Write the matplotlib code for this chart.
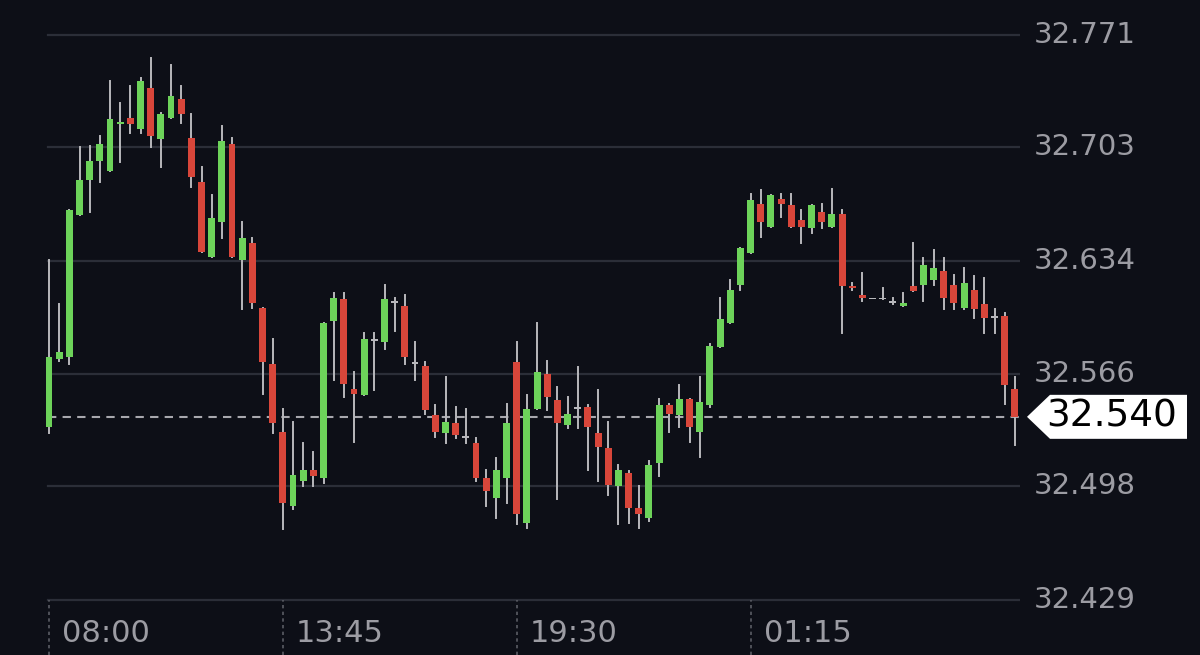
import matplotlib
matplotlib.use("Agg")
import matplotlib.pyplot as plt
from matplotlib.patches import Rectangle, Polygon

opens = [32.534,32.575,32.576,32.662,32.683,32.695,32.689,32.717,32.721,32.714,
         32.739,32.708,32.721,32.732,32.709,32.682,32.637,32.658,32.705,32.635,
         32.645,32.606,32.572,32.531,32.486,32.501,32.508,32.503,32.598,32.611,
         32.557,32.553,32.586,32.585,32.609,32.607,32.572,32.571,32.541,32.530,
         32.536,32.527,32.524,32.503,32.491,32.503,32.573,32.476,32.545,32.566,
         32.550,32.535,32.545,32.546,32.530,32.521,32.498,32.506,32.485,32.479,
         32.512,32.547,32.541,32.551,32.531,32.547,32.582,32.597,32.620,32.639,
         32.669,32.655,32.672,32.668,32.659,32.654,32.664,32.655,32.663,32.619,
         32.614,32.611,32.611,32.609,32.607,32.619,32.620,32.623,32.628,32.620,
         32.606,32.617,32.608,32.600,32.601,32.557]
highs = [32.635,32.608,32.665,32.703,32.704,32.710,32.743,32.730,32.740,32.745,
         32.757,32.724,32.753,32.740,32.723,32.691,32.674,32.716,32.709,32.658,
         32.648,32.606,32.587,32.545,32.537,32.524,32.519,32.597,32.615,32.615,
         32.567,32.591,32.591,32.620,32.612,32.614,32.585,32.573,32.547,32.564,
         32.546,32.545,32.527,32.508,32.515,32.548,32.585,32.553,32.597,32.574,
         32.558,32.552,32.570,32.547,32.556,32.537,32.511,32.507,32.498,32.513,
         32.551,32.548,32.559,32.551,32.564,32.584,32.612,32.623,32.642,32.675,
         32.677,32.674,32.675,32.675,32.665,32.668,32.669,32.678,32.665,32.621,
         32.627,32.611,32.618,32.612,32.615,32.645,32.636,32.641,32.636,32.626,
         32.630,32.625,32.624,32.605,32.603,32.564]
lows = [32.530,32.574,32.572,32.662,32.664,32.682,32.689,32.694,32.712,32.712,
        32.703,32.691,32.721,32.718,32.679,32.640,32.637,32.648,32.637,32.605,
        32.606,32.554,32.530,32.472,32.484,32.498,32.498,32.500,32.562,32.552,
        32.525,32.553,32.556,32.581,32.592,32.572,32.562,32.542,32.528,32.524,
        32.527,32.524,32.501,32.486,32.479,32.488,32.475,32.473,32.545,32.544,
        32.490,32.533,32.533,32.508,32.501,32.493,32.475,32.476,32.473,32.477,
        32.504,32.531,32.534,32.525,32.516,32.546,32.582,32.597,32.617,32.639,
        32.649,32.655,32.661,32.655,32.645,32.651,32.654,32.655,32.591,32.617,
        32.610,32.611,32.611,32.608,32.607,32.616,32.610,32.620,32.605,32.605,
        32.605,32.600,32.591,32.591,32.548,32.523]
closes = [32.576,32.579,32.665,32.683,32.695,32.705,32.720,32.718,32.717,32.743,
          32.710,32.723,32.734,32.723,32.685,32.640,32.660,32.707,32.637,32.648,
          32.609,32.573,32.536,32.488,32.505,32.508,32.504,32.597,32.612,32.560,
          32.554,32.587,32.586,32.611,32.609,32.576,32.572,32.544,32.531,32.537,
          32.529,32.527,32.503,32.495,32.508,32.536,32.481,32.545,32.567,32.552,
          32.536,32.542,32.545,32.534,32.522,32.499,32.508,32.485,32.481,32.511,
          32.547,32.542,32.551,32.534,32.549,32.583,32.599,32.617,32.642,32.671,
          32.658,32.674,32.669,32.655,32.655,32.668,32.658,32.663,32.619,32.618,
          32.612,32.611,32.611,32.609,32.609,32.616,32.632,32.630,32.612,32.609,
          32.621,32.605,32.600,32.600,32.559,32.540]
y_ticks = [32.771, 32.703, 32.634, 32.566, 32.498, 32.429]
time_labels = ["08:00", "13:45", "19:30", "01:15"]
time_idx = [0, 23, 46, 69]
last_price = 32.540

BG = "#0d0f17"
GREEN = "#6dd35a"
RED = "#d8463a"
WICK = "#b8b8bc"
GRID = "#2b2e38"
TXT = "#9c9ca3"

fig = plt.figure(figsize=(12, 6.55), dpi=100, facecolor=BG)
ax = fig.add_axes([0, 0, 0.85, 1])
ax.set_facecolor(BG)
ymin, ymax = 32.3959, 32.7922
ax.set_ylim(ymin, ymax)
ax.set_xlim(-4.82, 95.5)
ax.axis("off")

for t in y_ticks:
    ax.plot([-0.1, 95.5], [t, t], color=GRID, lw=1.6, zorder=1)
    fig.text(1034 / 1200, (t - ymin) / (ymax - ymin), f"{t:.3f}", color=TXT,
             fontsize=21, va="center", ha="left")

for i, lab in zip(time_idx, time_labels):
    ax.plot([i, i], [ymin, 32.429], color="#5a5c64", lw=1.2, ls=(0, (2, 2)), zorder=1)
    ax.text(i + 1.3, 32.409, lab, color=TXT, fontsize=22, va="center", ha="left")

ax.plot([-0.1, 95.5], [last_price, last_price], color="#a8a8ae", lw=1.5,
        ls=(0, (4, 3)), zorder=2)

w = 0.68
for i, (o, h, l, c) in enumerate(zip(opens, highs, lows, closes)):
    if c > o:
        col = GREEN
    elif c < o:
        col = RED
    else:
        col = WICK
    ax.plot([i, i], [l, h], color=WICK, lw=1.4, zorder=3)
    bot = min(o, c)
    hgt = max(abs(c - o), 0.0012)
    ax.add_patch(Rectangle((i - w / 2, bot), w, hgt, facecolor=col,
                           edgecolor="none", zorder=4))

yf = (last_price - ymin) / (ymax - ymin)
hh = 22 / 655
poly = Polygon([(1027 / 1200, yf), (1050 / 1200, yf + hh), (1187 / 1200, yf + hh),
                (1187 / 1200, yf - hh), (1050 / 1200, yf - hh)],
               closed=True, transform=fig.transFigure, facecolor="white",
               edgecolor="none")
fig.patches.append(poly)
fig.text(1112 / 1200, yf, f"{last_price:.3f}", color="black", fontsize=27,
         va="center", ha="center")

fig.savefig("out.png", dpi=100, facecolor=BG)
